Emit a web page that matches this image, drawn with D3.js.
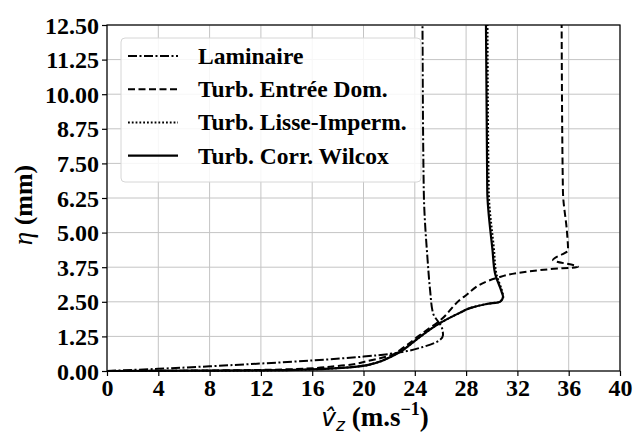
<!DOCTYPE html>
<html><head><meta charset="utf-8">
<script src="https://cdn.jsdelivr.net/npm/d3@7"></script>
<style>
html,body{margin:0;padding:0;background:#fff;}
svg{display:block;}
</style></head>
<body>
<svg id="c" width="644" height="441"></svg>
<script>
// ---- data (vz in m/s, eta in mm) ----
const xTicks = [0,4,8,12,16,20,24,28,32,36,40];
const yTicks = [0,1.25,2.5,3.75,5,6.25,7.5,8.75,10,11.25,12.5];
const seriesNames = ["Laminaire","Turb. Entrée Dom.","Turb. Lisse-Imperm.","Turb. Corr. Wilcox"];
const laminaireVz  = [0,4,8,12,16,20,22.07,23.39,24.64,25.96,26.2,26.12,25.42,25.19,25.0,24.7,24.6];
const laminaireEta = [0,0.08,0.17,0.27,0.38,0.52,0.62,0.72,0.87,1.12,1.30,1.55,2.09,2.93,4.0,6.5,12.5];
const entreeVz  = [0,8,14,18,20.5,22.3,22.85,24.4,26.0,27.8,30.4,31.97,34.54,36.72,34.78,35.95,35.87,35.55,35.45];
const entreeEta = [0,0.02,0.06,0.18,0.38,0.6,0.76,1.3,1.84,2.67,3.36,3.54,3.68,3.76,4.01,4.37,5.0,6.5,12.5];
const lisseVz  = [0,8,14,17,19.5,21,22.07,23.08,23.9,24.4,25.96,27.5,28.3,29.6,30.64,30.9,30.82,30.35,30.18,29.77,29.67];
const lisseEta = [0,0.01,0.03,0.08,0.16,0.3,0.5,0.76,1.05,1.23,1.73,2.1,2.27,2.42,2.5,2.68,2.86,3.54,4.37,6.5,12.5];
const wilcoxVz  = [0,8,14,17,19.5,21,22.07,23.08,23.9,24.4,25.96,27.5,28.3,29.6,30.64,30.88,30.77,30.25,30.06,29.65,29.55];
const wilcoxEta = [0,0.01,0.03,0.08,0.16,0.3,0.5,0.76,1.05,1.23,1.73,2.1,2.27,2.42,2.5,2.68,2.86,3.54,4.37,6.5,12.5];

const W=644,H=441;
const m={l:107,r:620,t:25,b:371};
const svg=d3.select("#c");
const x=d3.scaleLinear().domain([0,40]).range([m.l,m.r]);
const y=d3.scaleLinear().domain([0,12.5]).range([m.b,m.t]);
const serif='"Liberation Serif","Times New Roman",serif';

// grid
svg.append("g").selectAll("line").data(xTicks).join("line")
  .attr("x1",d=>x(d)).attr("x2",d=>x(d)).attr("y1",m.t).attr("y2",m.b)
  .attr("stroke","#c4c4c4").attr("stroke-width",1);
svg.append("g").selectAll("line").data(yTicks).join("line")
  .attr("y1",d=>y(d)).attr("y2",d=>y(d)).attr("x1",m.l).attr("x2",m.r)
  .attr("stroke","#c4c4c4").attr("stroke-width",1);

// series
const series=[
  {vz:laminaireVz,eta:laminaireEta,dash:"9,2.5,2,2.5",w:2},
  {vz:entreeVz,eta:entreeEta,dash:"7,3.5",w:2},
  {vz:lisseVz,eta:lisseEta,dash:"1.8,2",w:2},
  {vz:wilcoxVz,eta:wilcoxEta,dash:null,w:2.2}
];
const line=d3.line().x(d=>x(d[0])).y(d=>y(d[1])).curve(d3.curveMonotoneY);
const plot=svg.append("g");
series.forEach(s=>{
  const pts=s.vz.map((v,i)=>[v,s.eta[i]]);
  plot.append("path").attr("d",line(pts)).attr("fill","none")
    .attr("stroke","#000").attr("stroke-width",s.w)
    .attr("stroke-dasharray",s.dash).attr("stroke-linejoin","round");
});

// axes
const xa=svg.append("g").attr("transform",`translate(0,${m.b})`)
  .call(d3.axisBottom(x).tickValues(xTicks).tickFormat(d3.format("d")).tickSize(5).tickPadding(3));
const ya=svg.append("g").attr("transform",`translate(${m.l},0)`)
  .call(d3.axisLeft(y).tickValues(yTicks).tickFormat(d3.format(".2f")).tickSize(5).tickPadding(3));
[xa,ya].forEach(a=>{
  a.selectAll("text").attr("font-family",serif).attr("font-weight","bold").attr("font-size",24).attr("fill","#000");
  a.select(".domain").remove();
  a.selectAll(".tick line").attr("stroke","#000").attr("stroke-width",1.2);
});
ya.selectAll("text").attr("dy","0.34em");
// frame
svg.append("rect").attr("x",m.l).attr("y",m.t).attr("width",m.r-m.l).attr("height",m.b-m.t)
  .attr("fill","none").attr("stroke","#000").attr("stroke-width",1.2);

// legend
const lg=svg.append("g");
lg.append("rect").attr("x",121).attr("y",38).attr("width",300).attr("height",144).attr("rx",4)
  .attr("fill","#fff").attr("fill-opacity",0.85).attr("stroke","#d6d6d6").attr("stroke-width",1);
series.forEach((s,i)=>{
  const cy=56+i*33.2;
  lg.append("line").attr("x1",128).attr("x2",178).attr("y1",cy).attr("y2",cy)
    .attr("stroke","#000").attr("stroke-width",s.w).attr("stroke-dasharray",s.dash);
  lg.append("text").attr("x",198).attr("y",cy+8).text(seriesNames[i])
    .attr("font-family",serif).attr("font-weight","bold").attr("font-size",23.5).attr("fill","#000");
});

// axis labels
const xl=svg.append("text").attr("x",375).attr("y",426).attr("text-anchor","middle").attr("fill","#000");
xl.append("tspan").attr("font-family",'"DejaVu Sans",sans-serif').attr("font-style","italic").attr("font-size",25).text("v\u0302");
xl.append("tspan").attr("font-family",'"DejaVu Sans",sans-serif').attr("font-style","italic").attr("font-size",17).attr("dy",5).text("z");
xl.append("tspan").attr("font-family",serif).attr("font-weight","bold").attr("font-size",27).attr("dy",-5).text(" (m.s");
xl.append("tspan").attr("font-family",serif).attr("font-weight","bold").attr("font-size",18).attr("dy",-11).text("\u22121");
xl.append("tspan").attr("font-family",serif).attr("font-weight","bold").attr("font-size",27).attr("dy",11).text(")");

const yl=svg.append("text").attr("transform","translate(32,205) rotate(-90)").attr("text-anchor","middle").attr("fill","#000");
yl.append("tspan").attr("font-family",serif).attr("font-style","italic").attr("font-size",27).text("\u03b7");
yl.append("tspan").attr("font-family",serif).attr("font-weight","bold").attr("font-size",26).text(" (mm)");
</script>
</body></html>
